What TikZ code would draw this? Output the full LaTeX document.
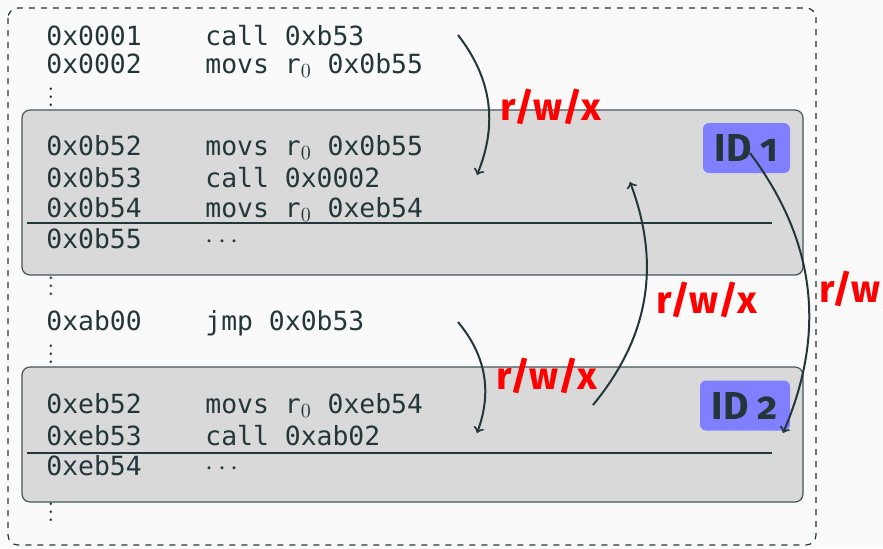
\documentclass[tikz,border=0pt]{standalone}
\usepackage{fontspec}
\setmonofont{DejaVu Sans Mono}
\newfontfamily\tagfont[Numbers=OldStyle]{Fira Sans}
\usetikzlibrary{positioning, calc}
\definecolor{fondo}{HTML}{FAFAFA}
\definecolor{tinta}{HTML}{23373B}
\definecolor{cajagris}{HTML}{D9D9D9}
\definecolor{azulid}{HTML}{8080FF}
\newcommand{\rzero}{r{\fontsize{14.5}{15}\selectfont$_0$}}
\newcommand{\restdots}{{\fontsize{14}{15}\selectfont$\cdots$}}

\begin{document}
\begin{tikzpicture}[x=0.5pt, y=-0.5pt,
  code/.style={anchor=base west, inner sep=0pt, text=tinta, font=\ttfamily\fontsize{13.2}{15}\selectfont},
  gap/.style={anchor=base west, inner sep=0pt, text=tinta, font=\fontsize{13}{15}\selectfont},
  region/.style={draw=tinta!85, fill=cajagris, rounded corners=4pt, line width=0.6pt},
  idtag/.style={fill=azulid, rounded corners=3pt, minimum height=25pt, inner sep=0pt, text=tinta, font=\tagfont\bfseries\fontsize{19.5}{20}\selectfont},
  perm/.style={inner sep=0pt, text=red, font=\tagfont\bfseries\fontsize{19.3}{22}\selectfont},
  flow/.style={draw=tinta, line width=1pt, ->}]
  \useasboundingbox (0,0) rectangle (883,548);
  \fill[fondo] (0,0) rectangle (883,548);
  \draw[tinta, dashed, line width=0.6pt, rounded corners=5pt] (8,8) rectangle (816,545);
  % memory regions
  \draw[region] (22,110) rectangle (803,275);
  \draw[region] (22,367) rectangle (803,502);
  \draw[tinta, line width=1.1pt] (27,222.7) -- (772,222.7);
  \draw[tinta, line width=1.1pt] (27,453) -- (772,453);
  % listing
  \foreach \n/\y/\ad/\ins in {1/45/0x0001/{call 0xb53}, 2/73/0x0002/{movs \rzero\ 0x0b55},
      3/155/0x0b52/{movs \rzero\ 0x0b55}, 4/187/0x0b53/{call 0x0002}, 5/217/0x0b54/{movs \rzero\ 0xeb54}, 6/248/0x0b55/{\restdots},
      7/330/0xab00/{jmp 0x0b53},
      8/413/0xeb52/{movs \rzero\ 0xeb54}, 9/445/0xeb53/{call 0xab02}, 10/475/0xeb54/{\restdots}}
    { \node[code] (ad\n) at (46,\y) {\ad}; \node[code] (in\n) at (205,\y) {\ins}; }
  \foreach \n/\y in {1/106, 2/295, 3/363, 4/521} { \node[gap] (vd\n) at (47,\y) {\vdots}; }
  % ids
  \node[idtag, minimum width=43.5pt] (id1) at (746.5,148) {ID 1};
  \node[idtag, minimum width=45pt] (id2) at (745,405.5) {ID 2};
  % accesses
  \coordinate (s1) at (458,35);  \coordinate (t1) at (477,175);
  \coordinate (s2) at (593,405); \coordinate (t2) at (630,182);
  \coordinate (s3) at (750,153); \coordinate (t3) at (783,433);
  \coordinate (s4) at (458,322); \coordinate (t4) at (477,433);
  \draw[flow] (s1) to[bend left=30] (t1);
  \draw[flow] (s2) to[bend right=30] (t2);
  \draw[flow] (s3) to[bend left=30] (t3);
  \draw[flow] (s4) to[bend left=30] (t4);
  \node[perm] (p1) at (551,107) {r/w/x};
  \node[perm] (p2) at (707,300) {r/w/x};
  \node[perm] (p3) at (869.5,289) {r/w/x};
  \node[perm] (p4) at (547,376) {r/w/x};
\end{tikzpicture}
\end{document}
